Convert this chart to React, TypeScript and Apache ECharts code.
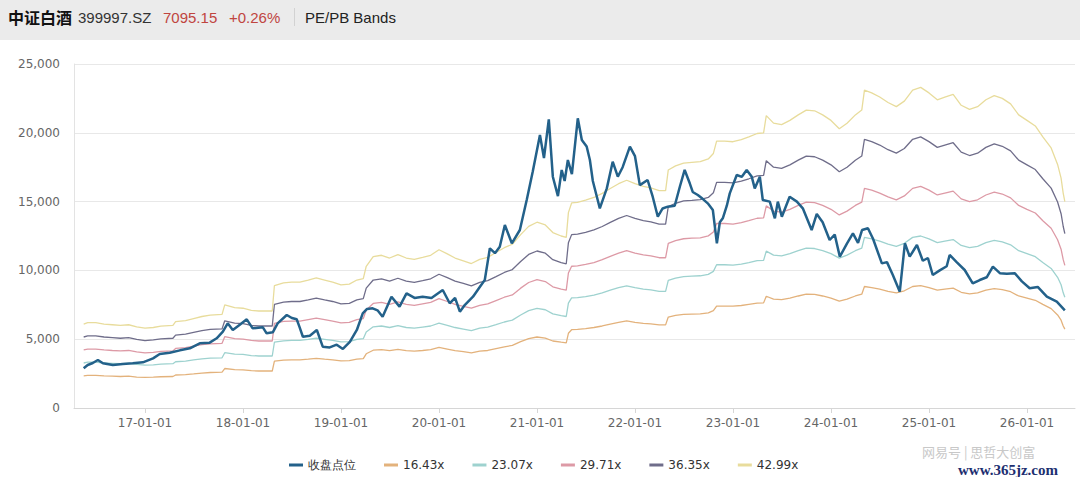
import React, { useEffect, useRef } from "react";
import * as echarts from "echarts";

// ---------- data ----------
const bandDates = [
  "2016-05-17","2016-06-01","2016-07-01","2016-08-01","2016-09-01","2016-10-01","2016-11-01","2016-12-01",
  "2017-01-01","2017-02-01","2017-03-01","2017-04-15","2017-04-25","2017-06-01","2017-07-01","2017-08-01",
  "2017-09-01","2017-10-15","2017-10-25","2017-12-01","2018-01-01","2018-02-01","2018-03-01","2018-04-20",
  "2018-04-28","2018-06-01","2018-07-01","2018-08-01","2018-09-01","2018-10-01","2018-11-01","2018-12-01",
  "2019-01-01","2019-02-01","2019-03-01","2019-03-25","2019-04-05","2019-05-01","2019-06-01","2019-07-01",
  "2019-08-01","2019-09-01","2019-10-01","2019-11-01","2019-12-01","2020-01-01","2020-02-01","2020-03-01",
  "2020-04-01","2020-05-01","2020-06-01","2020-07-01","2020-08-01","2020-09-01","2020-10-01","2020-11-01",
  "2020-12-01","2021-01-01","2021-02-01","2021-03-01","2021-04-01","2021-04-20","2021-04-28","2021-05-10",
  "2021-06-01","2021-07-01","2021-08-01","2021-09-01","2021-10-01","2021-11-01","2021-12-01","2022-01-01",
  "2022-02-01","2022-03-01","2022-04-01","2022-04-25","2022-05-05","2022-06-01","2022-07-01","2022-08-01",
  "2022-09-01","2022-10-01","2022-10-20","2022-11-01","2022-12-01","2023-01-01","2023-02-01","2023-03-01",
  "2023-04-01","2023-04-25","2023-05-05","2023-06-01","2023-07-01","2023-08-01","2023-09-01","2023-10-01",
  "2023-11-01","2023-12-01","2024-01-01","2024-02-01","2024-03-01","2024-04-01","2024-04-25","2024-05-05",
  "2024-06-01","2024-07-01","2024-08-01","2024-09-01","2024-10-01","2024-11-01","2024-12-01","2025-01-01",
  "2025-02-01","2025-03-01","2025-04-01","2025-05-01","2025-06-01","2025-07-01","2025-08-01","2025-09-01",
  "2025-10-01","2025-11-01","2025-12-01","2026-01-01","2026-02-01","2026-03-01","2026-04-01","2026-04-25",
  "2026-05-08","2026-05-16","2026-05-22"
];

const band1643 = [
  2330,2370,2370,2330,2310,2290,2310,2250,2220,2240,2270,2290,2400,2430,2480,2540,
  2580,2600,2870,2790,2770,2710,2690,2690,3400,3480,3500,3500,3550,3610,3550,3500,
  3420,3440,3550,3590,3940,4200,4240,4170,4260,4170,4130,4180,4240,4400,4280,4170,
  4090,4010,4130,4180,4320,4450,4550,4820,5040,5160,5080,4870,4780,4740,5430,5690,
  5710,5770,5850,5960,6100,6230,6330,6230,6150,6110,6040,6040,6610,6730,6800,6820,
  6840,6920,7070,7410,7410,7400,7450,7530,7620,7640,8120,7910,7870,7990,8140,8270,
  8260,8140,7990,7760,7910,8140,8270,8830,8750,8640,8480,8370,8520,8830,8900,8750,
  8560,8640,8710,8410,8290,8370,8560,8680,8600,8450,8140,7990,7830,7530,7220,6760,
  6380,5960,5730
];

const band2307 = [
  3270,3330,3330,3270,3250,3220,3250,3170,3110,3140,3190,3220,3360,3410,3490,3570,
  3620,3650,4020,3920,3890,3810,3780,3780,4780,4880,4910,4910,4990,5070,4990,4910,
  4800,4830,4990,5040,5530,5900,5960,5850,5980,5850,5800,5880,5960,6170,6010,5850,
  5740,5630,5800,5880,6060,6250,6390,6760,7080,7240,7140,6840,6710,6650,7620,8000,
  8020,8100,8210,8370,8560,8750,8880,8750,8640,8590,8480,8480,9280,9440,9550,9580,
  9610,9710,9930,10410,10410,10380,10460,10570,10710,10730,11400,11110,11060,11220,11430,11620,
  11590,11430,11220,10890,11110,11430,11620,12400,12290,12130,11910,11750,11970,12400,12500,12290,
  12020,12130,12240,11810,11650,11750,12020,12180,12070,11860,11430,11220,11000,10570,10140,9500,
  8960,8370,8050
];

const band2971 = [
  4220,4280,4280,4220,4180,4150,4180,4080,4010,4040,4110,4150,4330,4390,4490,4600,
  4660,4700,5180,5040,5010,4910,4870,4870,6150,6290,6320,6320,6430,6530,6430,6320,
  6190,6220,6430,6500,7120,7600,7670,7530,7710,7530,7460,7570,7670,7950,7740,7530,
  7390,7260,7460,7570,7810,8050,8220,8710,9120,9330,9190,8810,8640,8570,9810,10300,
  10330,10440,10570,10780,11020,11260,11440,11260,11130,11060,10920,10920,11960,12160,12300,12340,
  12370,12510,12790,13410,13410,13370,13480,13610,13790,13820,14690,14310,14240,14440,14720,14960,
  14930,14720,14440,14030,14310,14720,14960,15960,15830,15620,15340,15130,15410,15960,16100,15830,
  15480,15620,15760,15200,15000,15130,15480,15690,15550,15270,14720,14440,14170,13610,13060,12230,
  11540,10780,10370
];

const band3635 = [
  5160,5240,5240,5160,5120,5070,5120,4990,4900,4950,5030,5070,5300,5370,5500,5620,
  5710,5750,6340,6170,6130,6000,5960,5960,7530,7690,7740,7740,7860,7990,7860,7740,
  7570,7610,7860,7950,8710,9300,9390,9220,9430,9220,9130,9260,9390,9720,9470,9220,
  9050,8880,9130,9260,9550,9850,10060,10650,11160,11410,11250,10780,10570,10480,12010,12600,
  12640,12770,12940,13190,13490,13780,13990,13780,13610,13530,13360,13360,14630,14880,15050,15090,
  15140,15300,15640,16400,16400,16360,16490,16660,16870,16910,17970,17500,17420,17670,18010,18310,
  18260,18010,17670,17170,17500,18010,18310,19530,19360,19110,18770,18520,18860,19530,19700,19360,
  18940,19110,19280,18600,18350,18520,18940,19190,19020,18690,18010,17670,17330,16660,15980,14970,
  14120,13190,12680
];

const band4299 = [
  6100,6200,6200,6100,6050,6000,6050,5900,5800,5850,5950,6000,6270,6350,6500,6650,
  6750,6800,7500,7300,7250,7100,7050,7050,8900,9100,9150,9150,9300,9450,9300,9150,
  8950,9000,9300,9400,10300,11000,11100,10900,11150,10900,10800,10950,11100,11500,11200,10900,
  10700,10500,10800,10950,11300,11650,11900,12600,13200,13500,13300,12750,12500,12400,14200,14900,
  14950,15100,15300,15600,15950,16300,16550,16300,16100,16000,15800,15800,17300,17600,17800,17850,
  17900,18100,18500,19400,19400,19350,19500,19700,19950,20000,21250,20700,20600,20900,21300,21650,
  21600,21300,20900,20300,20700,21300,21650,23100,22900,22600,22200,21900,22300,23100,23300,22900,
  22400,22600,22800,22000,21700,21900,22400,22700,22500,22100,21300,20900,20500,19700,18900,17700,
  16700,15600,15000
];

const closeDates = [
  "2016-05-17","2016-06-01","2016-06-20","2016-07-09","2016-07-28","2016-09-03","2016-10-10","2016-11-16",
  "2016-12-24","2017-01-31","2017-02-25","2017-04-03","2017-05-11","2017-06-17","2017-07-24","2017-08-30",
  "2017-09-25","2017-10-18","2017-11-05","2017-11-24","2017-12-20","2018-01-15","2018-02-06","2018-03-16",
  "2018-03-30","2018-04-22","2018-05-10","2018-06-13","2018-07-02","2018-07-20","2018-07-31","2018-08-12",
  "2018-09-07","2018-10-03","2018-10-25","2018-11-20","2018-12-16","2019-01-08","2019-02-03","2019-03-01",
  "2019-03-23","2019-04-08","2019-04-29","2019-05-17","2019-06-05","2019-07-08","2019-08-07","2019-09-02",
  "2019-10-02","2019-11-01","2019-12-04","2020-01-15","2020-02-10","2020-03-01","2020-03-19","2020-04-07",
  "2020-05-07","2020-06-02","2020-06-20","2020-07-09","2020-07-28","2020-08-15","2020-09-03","2020-09-29",
  "2020-10-29","2020-11-24","2020-12-16","2021-01-12","2021-01-27","2021-02-14","2021-03-01","2021-03-20",
  "2021-04-03","2021-04-14","2021-04-26","2021-05-11","2021-06-02","2021-06-17","2021-07-05","2021-07-17",
  "2021-07-28","2021-08-12","2021-08-23","2021-09-18","2021-10-10","2021-10-29","2021-11-16","2021-12-13",
  "2022-01-01","2022-01-19","2022-02-17","2022-03-08","2022-03-27","2022-04-14","2022-05-03","2022-05-29",
  "2022-06-17","2022-07-05","2022-07-24","2022-08-04","2022-08-23","2022-09-10","2022-09-29","2022-10-18",
  "2022-11-02","2022-11-13","2022-11-24","2022-12-09","2022-12-20","2023-01-15","2023-02-03","2023-02-21",
  "2023-03-12","2023-03-23","2023-04-11","2023-04-22","2023-05-18","2023-06-06","2023-06-17","2023-07-02",
  "2023-07-31","2023-08-27","2023-09-18","2023-10-21","2023-11-09","2023-12-01","2023-12-27","2024-01-15",
  "2024-02-03","2024-03-01","2024-03-23","2024-04-11","2024-04-26","2024-05-18","2024-06-06","2024-07-09",
  "2024-07-28","2024-08-19","2024-09-14","2024-10-03","2024-10-21","2024-11-17","2024-12-09","2024-12-28",
  "2025-01-15","2025-02-10","2025-03-08","2025-03-19","2025-04-14","2025-05-14","2025-06-13","2025-07-09",
  "2025-08-04","2025-08-27","2025-09-22","2025-10-18","2025-11-17","2025-12-13","2026-01-11","2026-02-10",
  "2026-03-16","2026-04-22","2026-05-22"
];

const closeValues = [
  2885,3125,3270,3490,3250,3125,3200,3250,
  3320,3610,3920,4020,4190,4335,4700,4750,
  5065,5545,6155,5670,6055,6445,5790,5860,
  5425,5500,6155,6760,6540,6450,5860,5180,
  5250,5670,4455,4400,4600,4290,4800,5670,
  6880,7200,7245,7100,6635,8090,7365,8335,
  8000,8090,8000,8575,7610,8000,7000,7500,
  8090,8815,9300,11605,11250,11720,13300,11970,
  12935,15150,17170,19840,18170,20980,16810,15400,
  17300,16500,18020,17000,21050,19475,19000,18020,
  16500,15355,14510,15960,17900,16810,17500,18990,
  18300,16200,16570,15355,13900,14500,14630,14700,
  16080,17300,16330,15700,15480,15200,14875,14390,
  11970,13500,13785,14700,15600,16930,16800,17300,
  16800,15960,16810,15115,15000,13785,15000,13900,
  15355,15000,14510,12935,14100,13500,12210,12600,
  10995,11970,12695,12000,12935,13060,12300,10510,
  10600,9665,8450,11970,11000,11845,10700,10900,
  9665,10000,10300,11120,10600,10030,9060,9300,
  9500,10270,9800,9750,9785,9200,8700,8800,
  8090,7725,7095
];

const seriesNames = ["收盘点位", "16.43x", "23.07x", "29.71x", "36.35x", "42.99x"];
const seriesColors = ["#23618a", "#e3b27c", "#9ed2cf", "#dd9aa6", "#6f6d8a", "#e8dc9c"];
const yearTicks = [2017, 2018, 2019, 2020, 2021, 2022, 2023, 2024, 2025, 2026];
const yTicks = { min: 0, max: 25000, interval: 5000 };

const headerName = "中证白酒";
const headerCode = "399997.SZ";
const headerPrice = "7095.15";
const headerChange = "+0.26%";
const headerTitle = "PE/PB Bands";

// ---------- helpers ----------
function toYear(s: string): number {
  const [y, m, d] = s.split("-").map(Number);
  const start = Date.UTC(y, 0, 1);
  const end = Date.UTC(y + 1, 0, 1);
  return y + (Date.UTC(y, m - 1, d) - start) / (end - start);
}
function pair(dates: string[], vals: number[]) {
  return dates.map((d, i) => [toYear(d), vals[i]]);
}
function fmtThousands(v: number): string {
  return String(v).replace(/\B(?=(\d{3})+(?!\d))/g, ",");
}

export default function App() {
  const ref = useRef<HTMLDivElement>(null);
  useEffect(() => {
    document.body.style.margin = "0";
    if (!ref.current) return;
    const chart = echarts.init(ref.current, undefined, { renderer: "svg" });
    const bands = [band1643, band2307, band2971, band3635, band4299];
    const font = "DejaVu Sans, sans-serif";
    const hFont = "Liberation Sans, Arial, sans-serif";
    const series: any[] = [
      {
        name: seriesNames[0],
        type: "line",
        data: pair(closeDates, closeValues),
        showSymbol: false,
        symbol: "none",
        z: 5,
        lineStyle: { width: 2.5, color: seriesColors[0] },
        itemStyle: { color: seriesColors[0] },
      },
      ...bands.map((b, i) => ({
        name: seriesNames[i + 1],
        type: "line",
        data: pair(bandDates, b),
        showSymbol: false,
        symbol: "none",
        z: 2,
        lineStyle: { width: 1.3, color: seriesColors[i + 1] },
        itemStyle: { color: seriesColors[i + 1] },
      })),
    ];
    chart.setOption({
      animation: false,
      backgroundColor: "#ffffff",
      grid: { left: 74, right: 5, top: 64, bottom: 69, containLabel: false },
      legend: {
        data: seriesNames,
        left: 284,
        top: 454,
        icon: "rect",
        itemWidth: 14,
        itemHeight: 3,
        itemGap: 28,
        textStyle: { fontSize: 12, color: "#333", fontFamily: font },
      },
      xAxis: {
        type: "value",
        min: 2016.2755,
        max: 2026.49,
        splitLine: { show: false },
        axisLine: { show: true, lineStyle: { color: "#d6d6d6" } },
        axisTick: { show: true, length: 5, lineStyle: { color: "#d6d6d6" }, customValues: yearTicks },
        axisLabel: {
          customValues: yearTicks,
          color: "#666",
          fontSize: 12,
          fontFamily: font,
          margin: 9,
          formatter: (v: number) => `${String(Math.round(v)).slice(2)}-01-01`,
        },
      },
      yAxis: {
        type: "value",
        min: yTicks.min,
        max: yTicks.max,
        interval: yTicks.interval,
        axisLine: { show: true, lineStyle: { color: "#e3e3e3" } },
        axisTick: { show: false },
        splitLine: { lineStyle: { color: "#e8e8e8" } },
        axisLabel: {
          color: "#666",
          fontSize: 12,
          fontFamily: font,
          margin: 14,
          formatter: (v: number) => fmtThousands(v),
        },
      },
      series,
      graphic: [
        { type: "rect", shape: { x: 0, y: 0, width: 1080, height: 40 }, style: { fill: "#ebebeb" }, silent: true },
        { type: "text", x: 8, y: 17, style: { text: headerName, font: "bold 16px 'Noto Sans CJK SC', sans-serif", fill: "#111", verticalAlign: "middle" } },
        { type: "text", x: 78, y: 17, style: { text: headerCode, font: `15px ${hFont}`, fill: "#333", verticalAlign: "middle" } },
        { type: "text", x: 163, y: 17, style: { text: headerPrice, font: `15px ${hFont}`, fill: "#c0453f", verticalAlign: "middle" } },
        { type: "text", x: 229, y: 17, style: { text: headerChange, font: `15px ${hFont}`, fill: "#c0453f", verticalAlign: "middle" } },
        { type: "rect", shape: { x: 294, y: 8, width: 1, height: 18 }, style: { fill: "#d2d2d2" } },
        { type: "text", x: 305, y: 17, style: { text: headerTitle, font: `15px ${hFont}`, fill: "#222", verticalAlign: "middle" } },
        { type: "text", x: 922, y: 451, style: { text: "网易号 | 思哲大创富", font: "13px 'Noto Sans CJK SC', sans-serif", fill: "#c8c8c8", verticalAlign: "middle" } },
        { type: "text", x: 958, y: 470, style: { text: "www.365jz.com", font: "bold 15px 'Liberation Serif', serif", fill: "#1d2f70", verticalAlign: "middle" } },
      ],
    });
    return () => chart.dispose();
  }, []);
  return <div ref={ref} style={{ width: 1080, height: 477 }} />;
}
